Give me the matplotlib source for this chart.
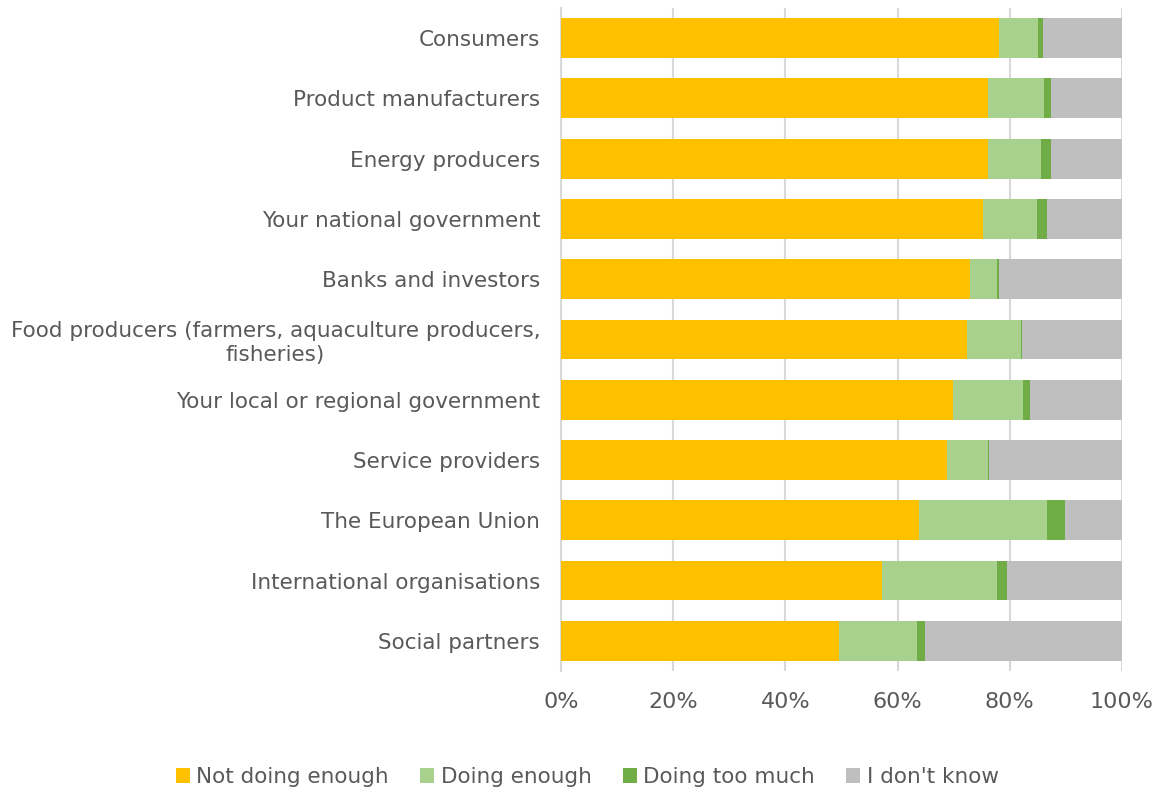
import matplotlib

matplotlib.use("Agg")
import matplotlib.pyplot as plt
import numpy as np
from matplotlib.ticker import FuncFormatter

categories = [
    "Consumers",
    "Product manufacturers",
    "Energy producers",
    "Your national government",
    "Banks and investors",
    "Food producers (farmers, aquaculture producers,\nfisheries)",
    "Your local or regional government",
    "Service providers",
    "The European Union",
    "International organisations",
    "Social partners",
]
not_enough = [78.0, 76.1, 76.1, 75.3, 72.9, 72.3, 69.9, 68.8, 63.9, 57.3, 49.6]
enough = [7.0, 10.0, 9.4, 9.6, 4.8, 9.7, 12.5, 7.4, 22.8, 20.4, 13.8]
too_much = [1.0, 1.3, 1.8, 1.8, 0.4, 0.2, 1.2, 0.1, 3.1, 1.85, 1.4]
dont_know = [14.0, 12.6, 12.7, 13.3, 21.9, 17.8, 16.4, 23.7, 10.2, 20.45, 35.2]

series = [
    ("Not doing enough", not_enough, "#ffc000"),
    ("Doing enough", enough, "#a9d18e"),
    ("Doing too much", too_much, "#70ad47"),
    ("I don't know", dont_know, "#bfbfbf"),
]

text_color = "#595959"
plt.rcParams["font.family"] = ["DejaVu Sans"]

fig = plt.figure(figsize=(11.63, 7.92), dpi=100)
ax = fig.add_axes([0.4824, 0.1528, 0.4823, 0.8372])

y = np.arange(len(categories))
left = np.zeros(len(categories))
handles = []
for label, values, color in series:
    vals = np.asarray(values)
    h = ax.barh(y, vals, left=left, height=0.66, color=color, label=label, zorder=3)
    handles.append(h)
    left += vals

ax.set_xlim(0, 100)
ax.set_ylim(len(categories) - 0.5, -0.5)
ax.set_xticks(np.arange(0, 101, 20))
ax.xaxis.set_major_formatter(FuncFormatter(lambda v, _: f"{v:.0f}%"))
ax.set_yticks(y)
ax.set_yticklabels(categories, ha="right", multialignment="center")
ax.tick_params(axis="y", length=0, pad=15, labelsize=15.5, labelcolor=text_color)
ax.tick_params(axis="x", length=0, pad=15, labelsize=16, labelcolor=text_color)
ax.grid(axis="x", color="#d9d9d9", linewidth=1.5, zorder=0)
for side in ["top", "right", "bottom"]:
    ax.spines[side].set_visible(False)
ax.spines["left"].set_color("#d9d9d9")
ax.spines["left"].set_linewidth(1.5)

fig.legend(
    handles=handles,
    loc="center",
    bbox_to_anchor=(0.505, 0.019),
    ncol=4,
    frameon=False,
    fontsize=15.5,
    labelcolor=text_color,
    handlelength=0.65,
    handleheight=0.65,
    handletextpad=0.3,
    columnspacing=1.45,
)

fig.savefig("out.png", dpi=100)
